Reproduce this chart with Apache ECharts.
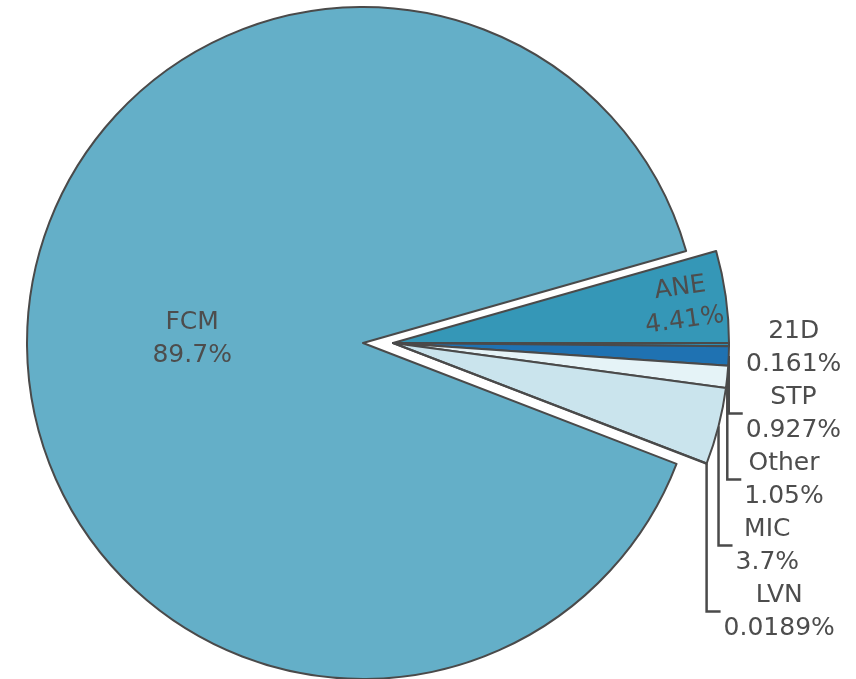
<!DOCTYPE html>
<html>
<head>
<meta charset="utf-8">
<script src="https://cdn.jsdelivr.net/npm/echarts@6/dist/echarts.min.js"></script>
<style>
  html, body { margin: 0; padding: 0; background: #fff; }
  #main { width: 856px; height: 679px; }
</style>
</head>
<body>
<div id="main"></div>
<script>
// data, clockwise from the start angle
var names = ['ANE', '21D', 'STP', 'Other', 'MIC', 'LVN', 'FCM'];
var values = [4.41, 0.161, 0.927, 1.05, 3.7, 0.0189, 89.7];
var colors = ['#3597b7', '#2f8eb3', '#1f72b2', '#e5f3f7', '#cae4ed', '#4a4a4a', '#64afc8'];

var CX = 363, CY = 343, R = 336;
var SHIFT = 30;        // the small slices are pulled out to the right together
var START = 15.9;
var LINE_H = 33;
var FONT = 'DejaVu Sans';
var TXT = '#4d4d4d';

var total = 0;
values.forEach(function (v) { total += v; });

// middle angle of a slice (deg, counterclockwise from 3 o'clock)
function midAngle(i) {
  var before = 0;
  for (var k = 0; k < i; k++) before += values[k];
  return START - (before + values[i] / 2) / total * 360;
}

// where each outside label sits: at its slice edge, pushed down below the previous one
var labelY = [];
var prev = -Infinity;
for (var i = 1; i < names.length - 1; i++) {
  var a = midAngle(i) * Math.PI / 180;
  var sy = CY - R * Math.sin(a) + 3;
  var y = Math.max(sy, prev + LINE_H * 2);
  labelY[i] = y;
  prev = y;
}

function layoutSmall(params) {
  var i = params.dataIndex;
  var deg = midAngle(i);
  var a = deg * Math.PI / 180;
  var cx = CX + SHIFT;
  if (names[i] === 'ANE') {
    var r = R * 0.87;
    return {
      x: cx + r * Math.cos(a),
      y: CY - r * Math.sin(a) + 2,
      align: 'center',
      verticalAlign: 'middle',
      rotate: deg
    };
  }
  var sx = cx + R * Math.cos(a);
  var sy = CY - R * Math.sin(a);
  var ly = labelY[i];
  var ex = sx + 14;
  return {
    x: ex + 3 + params.labelRect.width / 2,
    y: ly,
    align: 'center',
    verticalAlign: 'middle',
    labelLinePoints: [[sx, sy], [sx, ly], [ex, ly]]
  };
}

var hidden = { color: 'rgba(0,0,0,0)', borderWidth: 0 };

var bigData = names.map(function (n, i) {
  var isBig = n === 'FCM';
  return {
    name: n,
    value: values[i],
    itemStyle: isBig ? { color: colors[i] } : hidden,
    label: { show: isBig },
    labelLine: { show: false }
  };
});

var smallData = names.map(function (n, i) {
  var isBig = n === 'FCM';
  var item = {
    name: n,
    value: values[i],
    itemStyle: isBig ? hidden : { color: colors[i] },
    label: { show: !isBig },
    labelLine: { show: !isBig && n !== 'ANE' && n !== '21D' }
  };
  if (n === 'ANE') item.label.position = 'inside';
  return item;
});

var labelBase = {
  formatter: function (p) { return p.name + '\n' + p.value + '%'; },
  fontFamily: FONT,
  fontSize: 25,
  lineHeight: LINE_H,
  color: TXT,
  align: 'center'
};

var chart = echarts.init(document.getElementById('main'), null, { renderer: 'canvas' });

var option = {
  animation: false,
  series: [
    {
      type: 'pie',
      center: [CX, CY],
      radius: [0, R],
      startAngle: START,
      clockwise: true,
      silent: true,
      avoidLabelOverlap: false,
      itemStyle: { borderColor: '#4a4a4a', borderWidth: 2 },
      label: Object.assign({ position: 'inside' }, labelBase),
      labelLayout: function () { return { dy: 4 }; },
      data: bigData
    },
    {
      type: 'pie',
      center: [CX + SHIFT, CY],
      radius: [0, R],
      startAngle: START,
      clockwise: true,
      silent: true,
      avoidLabelOverlap: false,
      itemStyle: { borderColor: '#4a4a4a', borderWidth: 2 },
      label: Object.assign({ position: 'outside' }, labelBase),
      labelLine: { show: true, lineStyle: { color: '#4a4a4a', width: 2.5 } },
      labelLayout: layoutSmall,
      data: smallData
    }
  ]
};

chart.setOption(option);
</script>
</body>
</html>
